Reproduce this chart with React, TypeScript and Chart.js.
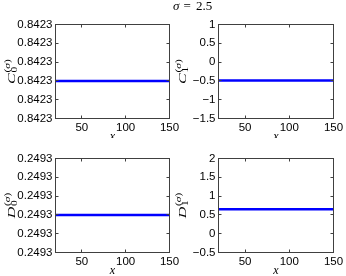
import React, { useEffect, useRef } from "react";
import { Chart, registerables } from "chart.js";
Chart.register(...registerables);

// ---- data ----
const xValues = [20, 150];
const c0Values = [0.8423, 0.8423];
const c1Values = [-0.49, -0.49];
const d0Values = [0.2493, 0.2493];
const d1Values = [0.65, 0.65];

const xTicks = [50, 100, 150];
const c0Ticks = [0.84229, 0.842295, 0.8423, 0.842305, 0.84231, 0.842315];
const c1Ticks = [-1.5, -1, -0.5, 0, 0.5, 1];
const d0Ticks = [0.24929, 0.249295, 0.2493, 0.249305, 0.24931, 0.249315];
const d1Ticks = [-0.5, 0, 0.5, 1, 1.5, 2];

const sigmaValue = "2.5";
const xLabel = "x";

type Box = { l: number; t: number; r: number; b: number };
type Panel = {
  id: string;
  cx: number; cy: number; cw: number; ch: number;
  box: Box;
  labelX: number;
  yData: number[];
  yTicks: number[];
  fixed4: boolean;
  letter: string;
  sub: string;
  title?: boolean;
};

const fmtNum = (v: number, fixed4: boolean) => {
  if (fixed4) return (Math.round(v * 1e4) / 1e4).toFixed(4);
  const s = String(Math.round(v * 100) / 100);
  return s.replace("-", "\u2212");
};

const panels: Panel[] = [
  { id: "tl", cx: 0, cy: 0, cw: 190, ch: 138, box: { l: 55.5, t: 24.5, r: 169.5, b: 118.5 }, labelX: 10, yData: c0Values, yTicks: c0Ticks, fixed4: true, letter: "C", sub: "0" },
  { id: "tr", cx: 170, cy: 0, cw: 176, ch: 138, box: { l: 218.5, t: 24.5, r: 333.5, b: 118.5 }, labelX: 181, yData: c1Values, yTicks: c1Ticks, fixed4: false, letter: "C", sub: "1", title: true },
  { id: "bl", cx: 0, cy: 138, cw: 190, ch: 138, box: { l: 55.5, t: 158.5, r: 169.5, b: 252.5 }, labelX: 10, yData: d0Values, yTicks: d0Ticks, fixed4: true, letter: "D", sub: "0" },
  { id: "br", cx: 170, cy: 138, cw: 176, ch: 138, box: { l: 218.5, t: 158.5, r: 333.5, b: 252.5 }, labelX: 181, yData: d1Values, yTicks: d1Ticks, fixed4: false, letter: "D", sub: "1" },
];

const SERIF = "'Liberation Serif', 'DejaVu Serif', serif";
const SANS = "'Liberation Sans', Arial, sans-serif";

function makeFramePlugin(p: Panel) {
  return {
    id: "frame_" + p.id,
    afterDraw(chart: any) {
      const ctx = chart.ctx as CanvasRenderingContext2D;
      const a = chart.chartArea;
      const xs = chart.scales.x;
      const ys = chart.scales.y;
      ctx.save();
      ctx.strokeStyle = "#404040";
      ctx.lineWidth = 1;
      ctx.strokeRect(a.left, a.top, a.right - a.left, a.bottom - a.top);
      ctx.beginPath();
      const tl = 3;
      for (const v of xTicks) {
        const px = Math.floor(xs.getPixelForValue(v)) + 0.5;
        ctx.moveTo(px, a.bottom);
        ctx.lineTo(px, a.bottom - tl);
        ctx.moveTo(px, a.top);
        ctx.lineTo(px, a.top + tl);
      }
      for (const v of p.yTicks) {
        const py = Math.floor(ys.getPixelForValue(v)) + 0.5;
        ctx.moveTo(a.left, py);
        ctx.lineTo(a.left + tl, py);
        ctx.moveTo(a.right, py);
        ctx.lineTo(a.right - tl, py);
      }
      ctx.stroke();

      // x label
      ctx.fillStyle = "#000";
      ctx.font = `italic 12px ${SERIF}`;
      ctx.textAlign = "center";
      ctx.textBaseline = "middle";
      ctx.fillText(xLabel, (a.left + a.right) / 2, a.bottom + 18.5);

      // y label (rotated, stretched along text direction)
      const cxl = p.labelX - p.cx;
      const cyl = (a.top + a.bottom) / 2;
      const S = 1.45;
      ctx.translate(cxl, cyl);
      ctx.rotate(-Math.PI / 2);
      ctx.scale(S, 1);
      ctx.textAlign = "left";
      ctx.textBaseline = "alphabetic";
      const mainFont = `italic 11px ${SERIF}`;
      const smallFont = `8px ${SERIF}`;
      const smallItalic = `italic 8px ${SERIF}`;
      ctx.font = mainFont;
      const wMain = ctx.measureText(p.letter).width;
      ctx.font = smallFont;
      const wP = ctx.measureText("(").width;
      const wP2 = ctx.measureText(")").width;
      const wSub = ctx.measureText(p.sub).width;
      ctx.font = smallItalic;
      const wS = ctx.measureText("\u03c3").width;
      const wSup = wP + wS + wP2;
      const total = wMain + 0.5 + Math.max(wSub, wSup);
      const x0 = -total / 2;
      const base = 5;
      ctx.font = mainFont;
      ctx.fillText(p.letter, x0, base);
      const xs0 = x0 + wMain + 0.5;
      ctx.font = smallFont;
      ctx.fillText(p.sub, xs0, base + 2);
      ctx.fillText("(", xs0, base - 5);
      ctx.font = smallItalic;
      ctx.fillText("\u03c3", xs0 + wP, base - 5);
      ctx.font = smallFont;
      ctx.fillText(")", xs0 + wP + wS, base - 5);
      ctx.setTransform(1, 0, 0, 1, 0, 0);

      if (p.title) {
        const ty = 10 - p.cy;
        ctx.textBaseline = "alphabetic";
        ctx.textAlign = "left";
        ctx.font = `italic 13px ${SERIF}`;
        ctx.fillText("\u03c3", 173 - p.cx, ty);
        ctx.font = `13px ${SERIF}`;
        ctx.fillText("=", 183.5 - p.cx, ty);
        ctx.fillText(sigmaValue, 196 - p.cx, ty);
      }
      ctx.restore();
    },
  };
}

function PanelChart({ p }: { p: Panel }) {
  const ref = useRef<HTMLCanvasElement | null>(null);
  useEffect(() => {
    if (!ref.current) return;
    const tickFont = { family: SANS, size: 11.5 };
    const chart = new Chart(ref.current, {
      type: "line",
      data: {
        datasets: [
          {
            data: xValues.map((x, i) => ({ x, y: p.yData[i] })),
            borderColor: "#0000ff",
            borderWidth: 2.5,
            pointRadius: 0,
            fill: false,
            tension: 0,
          },
        ],
      },
      options: {
        responsive: false,
        animation: false,
        devicePixelRatio: 1,
        layout: {
          padding: { top: p.box.t - p.cy, right: p.cx + p.cw - p.box.r, left: 0, bottom: 0 },
        },
        plugins: { legend: { display: false }, tooltip: { enabled: false }, title: { display: false } },
        scales: {
          x: {
            type: "linear",
            min: xValues[0],
            max: xValues[xValues.length - 1],
            grid: { display: false, drawTicks: false },
            border: { display: false },
            afterBuildTicks: (s: any) => {
              s.ticks = xTicks.map((v) => ({ value: v }));
            },
            afterFit: (s: any) => {
              s.height = p.cy + p.ch - p.box.b;
            },
            ticks: { font: tickFont, color: "#000", padding: 2, maxRotation: 0, autoSkip: false },
          },
          y: {
            type: "linear",
            min: p.yTicks[0],
            max: p.yTicks[p.yTicks.length - 1],
            grid: { display: false, drawTicks: false },
            border: { display: false },
            afterBuildTicks: (s: any) => {
              s.ticks = p.yTicks.map((v) => ({ value: v }));
            },
            afterFit: (s: any) => {
              s.width = p.box.l - p.cx;
            },
            ticks: {
              font: tickFont,
              color: "#000",
              padding: 3,
              autoSkip: false,
              callback: (v: any) => fmtNum(Number(v), p.fixed4),
            },
          },
        },
      } as any,
      plugins: [makeFramePlugin(p)],
    });
    return () => chart.destroy();
  }, [p]);
  return (
    <canvas
      ref={ref}
      width={p.cw}
      height={p.ch}
      style={{ position: "absolute", left: p.cx, top: p.cy, width: p.cw, height: p.ch }}
    />
  );
}

export default function App() {
  return (
    <div style={{ position: "absolute", left: 0, top: 0, width: 346, height: 276, background: "#fff", overflow: "hidden" }}>
      {panels.map((p) => (
        <PanelChart key={p.id} p={p} />
      ))}
    </div>
  );
}
